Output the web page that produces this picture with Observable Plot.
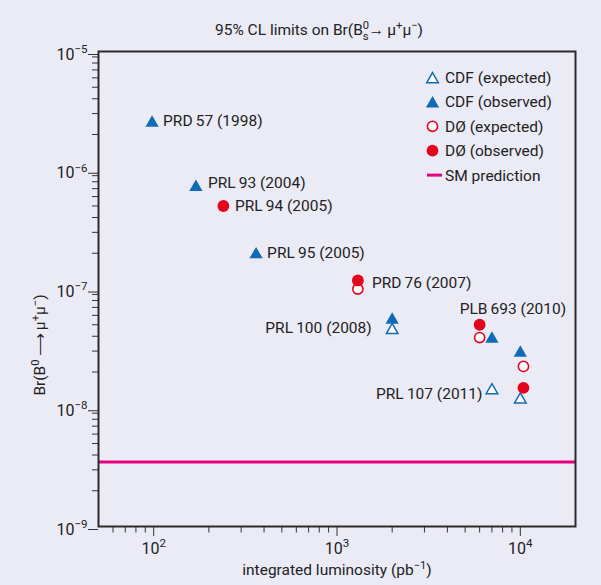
<!DOCTYPE html>
<html>
<head>
<meta charset="utf-8">
<script src="https://cdn.jsdelivr.net/npm/d3@7"></script>
<script src="https://cdn.jsdelivr.net/npm/@observablehq/plot@0.6"></script>
<style>
  html, body { margin: 0; padding: 0; background: #ebebf6; }
  #chart { width: 601px; height: 585px; }
</style>
</head>
<body>
<div id="chart"></div>
<script>
// ---------------- data ----------------
const cdfObsLum = [98, 170, 362, 2000, 7000, 10000];
const cdfObsBr  = [2.5e-6, 7.2e-7, 1.95e-7, 5.5e-8, 3.8e-8, 2.9e-8];
const cdfExpLum = [2000, 7000, 10000];
const cdfExpBr  = [4.5e-8, 1.4e-8, 1.17e-8];
const d0ObsLum  = [240, 1300, 6000, 10400];
const d0ObsBr   = [5.0e-7, 1.18e-7, 5.0e-8, 1.47e-8];
const d0ExpLum  = [1300, 6000, 10400];
const d0ExpBr   = [1.0e-7, 3.9e-8, 2.23e-8];
const smBr      = [3.5e-9];

const pubNames = ["PRD\u200957 (1998)", "PRL\u200993 (2004)", "PRL\u200994 (2005)", "PRL\u200995 (2005)",
                  "PRD\u200976 (2007)", "PRL\u2009100 (2008)", "PLB\u2009693 (2010)", "PRL\u2009107 (2011)"];
const pubLum = [98, 170, 240, 362, 1300, 2000, 6000, 7000];
const pubBr  = [2.5e-6, 7.2e-7, 5.0e-7, 1.95e-7, 1.18e-7, 4.5e-8, 5.0e-8, 1.4e-8];

const xMajor = [100, 1000, 10000];
const xMinor = [60, 70, 80, 90, 200, 300, 400, 500, 600, 700, 800, 900,
                2000, 3000, 4000, 5000, 6000, 7000, 8000, 9000];
const yMajor = [1e-9, 1e-8, 1e-7, 1e-6, 1e-5];
const yMinor = [2e-9,3e-9,4e-9,5e-9,6e-9,7e-9,8e-9,9e-9,
                2e-8,3e-8,4e-8,5e-8,6e-8,7e-8,8e-8,9e-8,
                2e-7,3e-7,4e-7,5e-7,6e-7,7e-7,8e-7,9e-7,
                2e-6,3e-6,4e-6,5e-6,6e-6,7e-6,8e-6,9e-6];

const legendLabels = ["CDF (expected)", "CDF (observed)", "D\u00d8 (expected)", "D\u00d8 (observed)", "SM prediction"];
const titleText  = "95% CL limits on Br(B^{0}_{s}\u2192\u2009\u03bc^{+}\u03bc^{\u2212})";
const xLabelText = "integrated luminosity (pb^{\u22121})";
const yLabelText = "Br(B^{0}\u2009\u27f6\u2009\u03bc^{+}\u03bc^{\u2212})";

// ---------------- build ----------------
const BLUE = "#0f6bb5", RED = "#e3051b", MAGENTA = "#e6007e", INK = "#222";
const FONT = "Roboto, 'Liberation Sans', sans-serif";
const zip = (xs, ys) => xs.map((x, i) => ({lum: x, br: ys[i]}));
const cdfObs = zip(cdfObsLum, cdfObsBr), cdfExp = zip(cdfExpLum, cdfExpBr);
const d0Obs = zip(d0ObsLum, d0ObsBr), d0Exp = zip(d0ExpLum, d0ExpBr);
const pubs = pubNames.map((n, i) => ({name: n, lum: pubLum[i], br: pubBr[i]}));
const expFmt = d => "10^{" + String(Math.round(Math.log10(d))).replace("-", "\u2212") + "}";

const pubLabel = (i, dx, dy, anchor) =>
  Plot.text([pubs[i]], {x: "lum", y: "br", text: "name", dx, dy, textAnchor: anchor, fontSize: 15.5, fill: INK});

const hasAxis = typeof Plot.axisX === "function";
const axisMarks = hasAxis ? [
  Plot.axisX(xMinor, {anchor: "bottom", tickSize: 6.5, tickFormat: () => "", stroke: "#333", label: null}),
  Plot.axisX(xMajor, {anchor: "bottom", tickSize: 10, tickPadding: 6, tickFormat: expFmt, fontSize: 16, stroke: "#333", fill: INK, label: null}),
  Plot.axisY(yMinor, {anchor: "left", tickSize: 6, tickFormat: () => "", stroke: "#333", label: null}),
  Plot.axisY(yMajor, {anchor: "left", tickSize: 10, tickPadding: 1, tickFormat: expFmt, fontSize: 16, dy: 3, stroke: "#333", fill: INK, label: null})
] : [];

const svg = Plot.plot({
  width: 601, height: 585,
  marginLeft: 98, marginRight: 26, marginTop: 51, marginBottom: 59,
  style: {background: "#ebebf6", fontFamily: FONT, color: INK, overflow: "visible"},
  x: {type: "log", domain: [50, 20000],
      ...(hasAxis ? {} : {ticks: xMajor.concat(xMinor), tickFormat: d => xMajor.includes(d) ? expFmt(d) : "", label: null, tickSize: 8})},
  y: {type: "log", domain: [1e-9, 1e-5],
      ...(hasAxis ? {} : {ticks: yMajor.concat(yMinor), tickFormat: d => yMajor.includes(d) ? expFmt(d) : "", label: null, tickSize: 8})},
  marks: [
    ...axisMarks,
    Plot.ruleY(smBr, {y: d => d, stroke: MAGENTA, strokeWidth: 3}),
    Plot.frame({stroke: "#2a2a2a", strokeWidth: 2}),
    Plot.dot(cdfExp, {x: "lum", y: "br", symbol: "triangle", r: 4.3, fill: "white", stroke: BLUE, strokeWidth: 1.5}),
    Plot.dot(cdfObs, {x: "lum", y: "br", symbol: "triangle", r: 4.9, fill: BLUE}),
    Plot.dot(d0Exp, {x: "lum", y: "br", r: 5.1, fill: "white", stroke: RED, strokeWidth: 1.6}),
    Plot.dot(d0Obs, {x: "lum", y: "br", r: 5.9, fill: RED}),
    pubLabel(0, 11, -1.5, "start"),
    pubLabel(1, 12, -4.5, "start"),
    pubLabel(2, 11.5, 0, "start"),
    pubLabel(3, 11, -2, "start"),
    pubLabel(4, 14, 3, "start"),
    pubLabel(5, -20.5, -2, "end"),
    pubLabel(6, -20, -15.5, "start"),
    pubLabel(7, -9.5, 4, "end"),
    Plot.text([titleText], {text: d => d, frameAnchor: "top", dx: -18, dy: -21, lineAnchor: "middle", fontSize: 15.5, fill: INK}),
    Plot.text([xLabelText], {text: d => d, frameAnchor: "bottom", dx: 0, dy: 44, lineAnchor: "middle", fontSize: 15.5, fill: INK}),
    Plot.text([yLabelText], {text: d => d, frameAnchor: "left", rotate: -90, dx: -58, dy: 56, lineAnchor: "middle", textAnchor: "middle", fontSize: 15.5, fill: INK})
  ]
});
document.getElementById("chart").append(svg);

// ---------------- legend ----------------
const lg = d3.select(svg).append("g").attr("font-family", FONT).attr("font-size", 15.5)
  .attr("fill", INK).attr("text-anchor", "start");
const triArea = Math.PI * 4.9 * 4.9;
const legendSymbols = [
  g => g.append("path").attr("d", d3.symbol(d3.symbolTriangle, Math.PI * 4.3 * 4.3)()).attr("fill", "white").attr("stroke", BLUE).attr("stroke-width", 1.5).attr("transform", "translate(0,1.8)"),
  g => g.append("path").attr("d", d3.symbol(d3.symbolTriangle, triArea)()).attr("fill", BLUE).attr("transform", "translate(0,1.8)"),
  g => g.append("circle").attr("r", 5.1).attr("fill", "white").attr("stroke", RED).attr("stroke-width", 1.6),
  g => g.append("circle").attr("r", 5.9).attr("fill", RED),
  g => g.append("line").attr("x1", -5.5).attr("x2", 9.5).attr("stroke", MAGENTA).attr("stroke-width", 3)
];
legendLabels.forEach((lab, i) => {
  const g = lg.append("g").attr("transform", `translate(432.5,${77.5 + i * 24.4})`);
  legendSymbols[i](g);
  g.append("text").attr("x", 12.5).attr("dy", "0.35em").attr("text-anchor", "start").text(lab);
});

// ---------------- rich text (super/subscripts) ----------------
function richify(root) {
  root.querySelectorAll("text").forEach(t => {
    const s = t.textContent;
    if (!/[\^_]\{/.test(s)) return;
    const fs = parseFloat(getComputedStyle(t).fontSize) || 15;
    const parts = s.match(/\^\{[^}]*\}|_\{[^}]*\}|[^\^_]+/g);
    while (t.firstChild) t.removeChild(t.firstChild);
    let shift = 0, lastSup = null;
    for (const p of parts) {
      const ts = document.createElementNS("http://www.w3.org/2000/svg", "tspan");
      let target = 0, small = false, txt = p;
      if (p.startsWith("^{")) { target = -0.42 * fs; small = true; txt = p.slice(2, -1); }
      else if (p.startsWith("_{")) { target = 0.3 * fs; small = true; txt = p.slice(2, -1); }
      ts.textContent = txt;
      if (small) ts.setAttribute("font-size", (0.72 * fs) + "px");
      const d = target - shift;
      if (d) ts.setAttribute("dy", d);
      shift = target;
      t.appendChild(ts);
      if (p.startsWith("_{") && lastSup) ts.setAttribute("dx", -lastSup.getComputedTextLength());
      lastSup = p.startsWith("^{") ? ts : null;
    }
  });
}
richify(svg);
</script>
</body>
</html>
